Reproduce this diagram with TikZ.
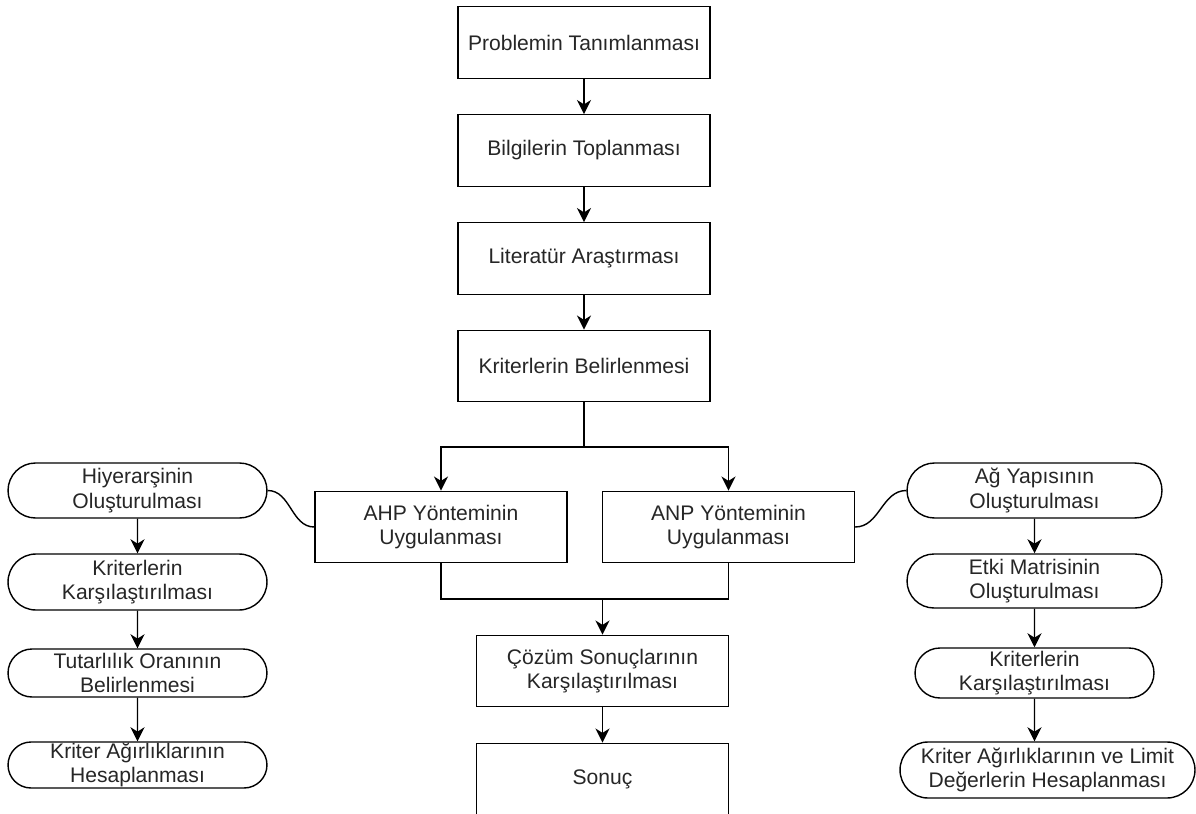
\documentclass[tikz,border=0pt]{standalone}
\usepackage{fontspec}
\setmainfont{Liberation Sans}
\usetikzlibrary{arrows.meta,shapes.misc}

\begin{document}
\begin{tikzpicture}
          [x=0.02cm,y=-0.02cm,line width=0.8pt,
           every node/.style={draw, align=center, inner sep=0pt, text=black!85,
                              font=\fontsize{12}{13.8}\selectfont},
           stepbox/.style={minimum width=5.04cm, minimum height=1.43cm},
           pill/.style={rounded rectangle, rounded rectangle arc length=180},
           arr/.style={-{Stealth[length=8pt,width=8pt,inset=2.5pt]}}]
        \useasboundingbox (0,0) rectangle (1196,814);

        \node[stepbox] (prob) at (584,42.5) {Problemin Tanımlanması};
        \node[stepbox] (bilgi) at (584,150.5) {Bilgilerin Toplanması};
        \node[stepbox] (lit) at (584,258.5) {Literatür Araştırması};
        \node[stepbox] (krit) at (584,366) {Kriterlerin Belirlenmesi};
        \node[stepbox] (ahp) at (441,527) {AHP Yönteminin\\Uygulanması};
        \node[stepbox] (anp) at (728.5,527) {ANP Yönteminin\\Uygulanması};
        \node[stepbox] (cozum) at (602.5,671) {Çözüm Sonuçlarının\\Karşılaştırılması};
        \node[stepbox] (sonuc) at (602.5,779) {Sonuç};

        \node[pill, minimum width=5.18cm, minimum height=1.1cm] (hiy) at (137.5,490.5) {Hiyerarşinin\\Oluşturulması};
        \node[pill, minimum width=5.18cm, minimum height=1.12cm] (kk1) at (137.5,582) {Kriterlerin\\Karşılaştırılması};
        \node[pill, minimum width=5.18cm, minimum height=0.96cm] (tut) at (137.5,673) {Tutarlılık Oranının\\Belirlenmesi};
        \node[pill, minimum width=5.18cm, minimum height=0.92cm] (kah) at (137.5,765) {Kriter Ağırlıklarının\\Hesaplanması};

        \node[pill, minimum width=5.1cm, minimum height=1.1cm] (ag) at (1034.5,490.5) {Ağ Yapısının\\Oluşturulması};
        \node[pill, minimum width=5.1cm, minimum height=1.08cm] (etki) at (1034.5,581) {Etki Matrisinin\\Oluşturulması};
        \node[pill, minimum width=4.78cm, minimum height=1.0cm] (kk2) at (1034.5,673) {Kriterlerin\\Karşılaştırılması};
        \node[pill, minimum width=5.9cm, minimum height=1.12cm] (klim) at (1047.5,770) {Kriter Ağırlıklarının ve Limit\\Değerlerin Hesaplanması};

        \coordinate (split) at (584,447);
        \coordinate (join) at (602.5,599);

        \foreach \from/\to in {prob/bilgi, bilgi/lit, lit/krit, cozum/sonuc, hiy/kk1, kk1/tut, tut/kah, ag/etki, etki/kk2}
          \draw[arr] (\from) -- (\to);
        \draw[arr] (kk2) -- (kk2 |- klim.north);

        \draw (krit) -- (split);
        \draw[arr] (split) -| (ahp);
        \draw[arr] (split) -| (anp);
        \draw (ahp) |- (join);
        \draw (anp) |- (join);
        \draw[arr] (join) -- (cozum);

        \draw (hiy.east) to[out=0, in=180] (ahp.west);
        \draw (anp.east) to[out=0, in=180] (ag.west);
      \end{tikzpicture}
\end{document}
